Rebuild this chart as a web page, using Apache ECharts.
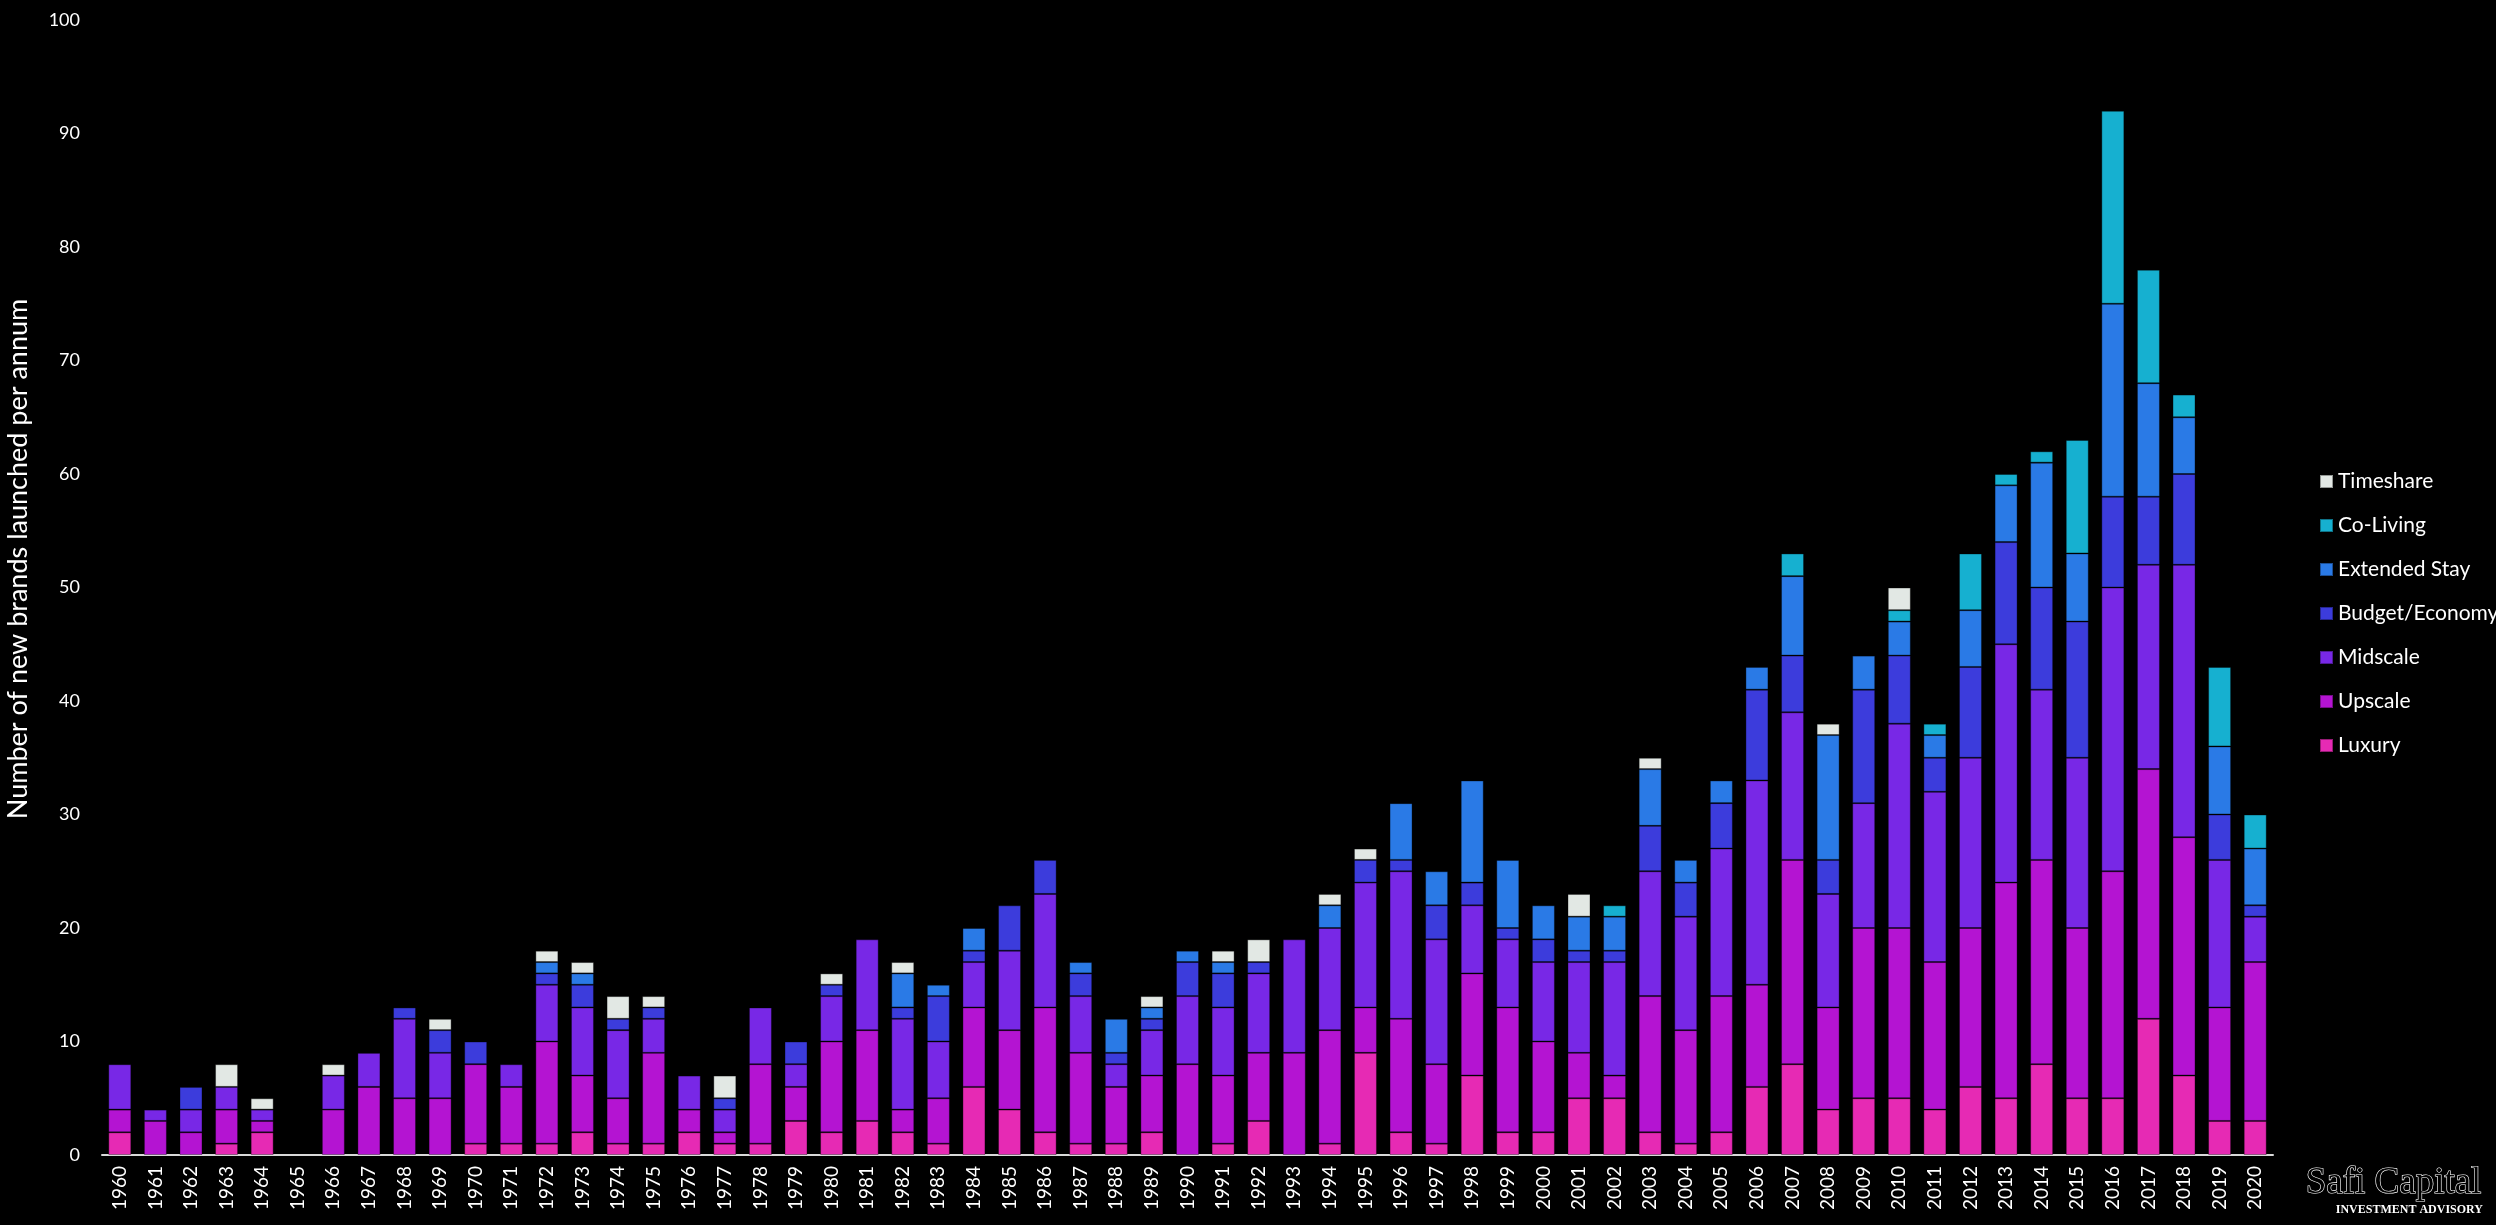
<!DOCTYPE html>
<html>
<head>
<meta charset="utf-8">
<title>New hotel brands launched per annum</title>
<script src="https://cdn.jsdelivr.net/npm/echarts@6/dist/echarts.min.js"></script>
<style>
  html, body { margin: 0; padding: 0; background: #000; }
  #chart { width: 2496px; height: 1225px; }
</style>
</head>
<body>
<div id="chart"></div>
<script>
// years 1960 - 2020
var years = [];
for (var y = 1960; y <= 2020; y++) years.push(String(y));

// brands launched per segment, one value per year
var luxury = [
  2,0,0,1,2,0,0,0,0,0,
  1,1,1,2,1,1,2,1,1,3,
  2,3,2,1,6,4,2,1,1,2,
  0,1,3,0,1,9,2,1,7,2,
  2,5,5,2,1,2,6,8,4,5,
  5,4,6,5,8,5,5,12,7,3,3
];
var upscale = [
  2,3,2,3,1,0,4,6,5,5,
  7,5,9,5,4,8,2,1,7,3,
  8,8,2,4,7,7,11,8,5,5,
  8,6,6,9,10,4,10,7,9,11,
  8,4,2,12,10,12,9,18,9,15,
  15,13,14,19,18,15,20,22,21,10,14
];
var midscale = [
  4,1,2,2,1,0,3,3,7,4,
  0,2,5,6,6,3,3,2,5,2,
  4,8,8,5,4,7,10,5,2,4,
  6,6,7,10,9,11,13,11,6,6,
  7,8,10,11,10,13,18,13,10,11,
  18,15,15,21,15,15,25,18,24,13,4
];
var budget = [
  0,0,2,0,0,0,0,0,1,2,
  2,0,1,2,1,1,0,1,0,2,
  1,0,1,4,1,4,3,2,1,1,
  3,3,1,0,0,2,1,3,2,1,
  2,1,1,4,3,4,8,5,3,10,
  6,3,8,9,9,12,8,6,8,4,1
];
var extendedStay = [
  0,0,0,0,0,0,0,0,0,0,
  0,0,1,1,0,0,0,0,0,0,
  0,0,3,1,2,0,0,1,3,1,
  1,1,0,0,2,0,5,3,9,6,
  3,3,3,5,2,2,2,7,11,3,
  3,2,5,5,11,6,17,10,5,6,5
];
var coLiving = [
  0,0,0,0,0,0,0,0,0,0,
  0,0,0,0,0,0,0,0,0,0,
  0,0,0,0,0,0,0,0,0,0,
  0,0,0,0,0,0,0,0,0,0,
  0,0,1,0,0,0,0,2,0,0,
  1,1,5,1,1,10,17,10,2,7,3
];
var timeshare = [
  0,0,0,2,1,0,1,0,0,1,
  0,0,1,1,2,1,0,2,0,0,
  1,0,1,0,0,0,0,0,0,1,
  0,1,2,0,1,1,0,0,0,0,
  0,2,0,1,0,0,0,0,1,0,
  2,0,0,0,0,0,0,0,0,0,0
];

var yTicks = [0, 100, 10]; // min, max, interval

var segments = [
  { name: 'Luxury',         data: luxury,       color: '#e62ab4' },
  { name: 'Upscale',        data: upscale,      color: '#b414d2' },
  { name: 'Midscale',       data: midscale,     color: '#7828e6' },
  { name: 'Budget/Economy', data: budget,       color: '#3c3cdc' },
  { name: 'Extended Stay',  data: extendedStay, color: '#2a7ae6' },
  { name: 'Co-Living',      data: coLiving,     color: '#16b0d0' },
  { name: 'Timeshare',      data: timeshare,    color: '#e2e8e4' }
];

var font = 'Lato, "Open Sans", sans-serif';

var series = segments.map(function (s) {
  return {
    name: s.name,
    type: 'bar',
    stack: 'brands',
    barWidth: 23,
    // zero segments are left out so no empty border gets drawn
    data: s.data.map(function (v) { return v === 0 ? null : v; }),
    itemStyle: {
      color: s.color,
      borderColor: 'rgba(0,0,0,0.35)',
      borderWidth: 1
    },
    emphasis: { disabled: true }
  };
});

var chart = echarts.init(document.getElementById('chart'));
chart.setOption({
  backgroundColor: '#000',
  animation: false,
  textStyle: { fontFamily: font },
  grid: { left: 102, right: 223, top: 20, bottom: 70 },
  legend: {
    orient: 'vertical',
    left: 2314,
    top: 466,
    icon: 'rect',
    itemWidth: 13,
    itemHeight: 13,
    itemGap: 23,
    data: ['Timeshare', 'Co-Living', 'Extended Stay', 'Budget/Economy', 'Midscale', 'Upscale', 'Luxury'],
    textStyle: { color: '#fff', fontSize: 21, fontFamily: font, overflow: 'none' }
  },
  xAxis: {
    type: 'category',
    data: years,
    axisLine: { lineStyle: { color: '#d9d9d9', width: 2 } },
    axisTick: { show: false },
    axisLabel: {
      color: '#fff',
      fontSize: 19,
      rotate: 90,
      margin: 11,
      interval: 0,
      fontFamily: font
    }
  },
  yAxis: {
    type: 'value',
    min: yTicks[0],
    max: yTicks[1],
    interval: yTicks[2],
    axisLine: { show: false },
    axisTick: { show: false },
    splitLine: { show: false },
    axisLabel: { color: '#fff', fontSize: 18, margin: 22, fontFamily: font }
  },
  graphic: [
    {
      type: 'text',
      x: 18,
      y: 559,
      rotation: Math.PI / 2,
      style: {
        text: 'Number of new brands launched per annum',
        fill: '#fff',
        fontSize: 27,
        fontFamily: font,
        align: 'center',
        verticalAlign: 'middle'
      }
    },
    {
      type: 'text',
      right: 14,
      top: 1164,
      style: {
        text: 'Safi Capital',
        fill: '#000',
        stroke: '#fff',
        lineWidth: 1.2,
        fontSize: 37,
        fontFamily: '"Liberation Serif", "DejaVu Serif", serif'
      }
    },
    {
      type: 'text',
      right: 13,
      top: 1204,
      style: {
        text: 'INVESTMENT ADVISORY',
        fill: '#fff',
        fontSize: 12,
        fontWeight: 'bold',
        fontFamily: '"Liberation Serif", "DejaVu Serif", serif'
      }
    }
  ],
  series: series
});
</script>
</body>
</html>
